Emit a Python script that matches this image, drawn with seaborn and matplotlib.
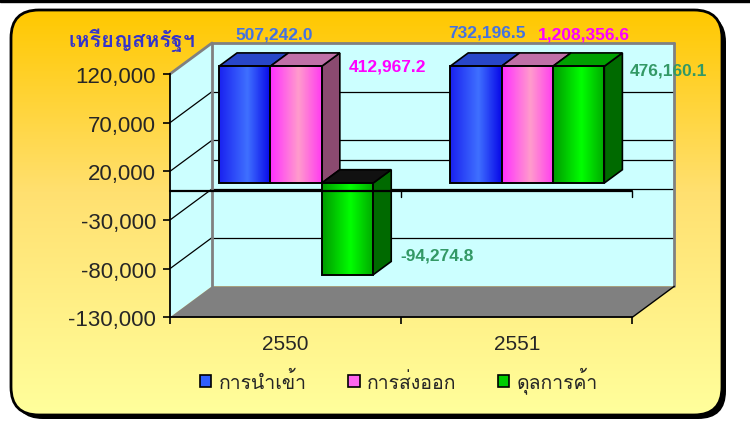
import numpy as np
import pandas as pd
import seaborn as sns
import matplotlib
matplotlib.use("Agg")
import matplotlib.pyplot as plt
import matplotlib.transforms as mtransforms
import matplotlib.font_manager as fm
from matplotlib.ft2font import FT2Font
from matplotlib.colors import LinearSegmentedColormap
from matplotlib.patches import Polygon, Rectangle, FancyBboxPatch, Patch
from matplotlib.lines import Line2D

# ---- data ----
years = ["2550", "2551"]
series = ["การนำเข้า", "การส่งออก", "ดุลการค้า"]
imports = [507242.0, 732196.5]
exports = [412967.2, 1208356.6]
balance = [-94274.8, 476160.1]
y_ticks = [-130000, -80000, -30000, 20000, 70000, 120000]
y_title = "เหรียญสหรัฐฯ"

# ---- style ----
front_colors = ["#2F5FFF", "#FF66EE", "#00CC00"]
grad_colors = [("#1A22F0", "#3F70FF", "#0808E8"),
               ("#FF30FF", "#FF9CCC", "#FF3CF0"),
               ("#009A00", "#00FF00", "#00A800")]
top_colors = ["#2846C8", "#C070A8", "#00A000"]
side_colors = ["#1020A0", "#8B4A70", "#006A00"]
label_colors = ["#4472E0", "#FF00FF", "#339966"]
# label offsets in pixels (right, up) from the visible bar end
label_offsets = {("2550", 0): (29, 32), ("2550", 1): (91, 0), ("2550", 2): (90, 20),
                 ("2551", 0): (11, 34), ("2551", 1): (57, 32), ("2551", 2): (90, -4)}


def find_thai_fonts():
    names = []
    for f in fm.fontManager.ttflist:
        try:
            if ord("ก") in FT2Font(f.fname).get_charmap() and f.name not in names:
                names.append(f.name)
        except Exception:
            pass
    # sans faces close to Tahoma first
    pref = ["Loma", "Garuda", "Umpush", "Noto Sans Thai", "Sarabun"]
    return sorted(names, key=lambda n: pref.index(n) if n in pref else len(pref))


sns.set_style("white")
thai_fonts = find_thai_fonts()
plt.rcParams["font.family"] = ["Liberation Sans"] + thai_fonts + ["DejaVu Sans"]
thai_family = thai_fonts[:1] + ["Liberation Sans", "DejaVu Sans"]

W, H = 750, 427
fig = plt.figure(figsize=(W / 100, H / 100), dpi=100, facecolor="white")

# ---- background panel (pixel coordinates) ----
bg = fig.add_axes([0, 0, 1, 1], zorder=-10)
bg.set_xlim(0, W)
bg.set_ylim(H, 0)
bg.axis("off")
bg.add_patch(Rectangle((0, 0), W, 2.5, color="black"))
bg.add_patch(FancyBboxPatch((15, 15), 711, 405, boxstyle="round,pad=0,rounding_size=28",
                            fc="black", ec="none"))
panel = FancyBboxPatch((11, 11), 711, 405, boxstyle="round,pad=0,rounding_size=28",
                       fc="none", ec="black", lw=2, zorder=3)
bg.add_patch(panel)
cmap_bg = LinearSegmentedColormap.from_list(
    "bg", [(0, "#FFC800"), (0.45, "#FFE070"), (1, "#FFFF9C")])
img = bg.imshow(np.linspace(0, 1, 256)[:, None], cmap=cmap_bg, aspect="auto",
                extent=(11, 722, 416, 11), zorder=1)
img.set_clip_path(panel)
bg.set_xlim(0, W)
bg.set_ylim(H, 0)

# ---- main axes (front plane of the 3-D box) ----
ax = fig.add_axes([170 / W, (H - 318.3) / H, (632.3 - 170) / W, (318.3 - 75) / H])
ax.patch.set_visible(False)

df = pd.DataFrame({
    "year": years * 3,
    "series": [series[0]] * 2 + [series[1]] * 2 + [series[2]] * 2,
    "value": imports + exports + balance,
})
sns.barplot(data=df, x="year", y="value", hue="series", order=years, hue_order=series,
            palette=front_colors, width=0.667, saturation=1, errorbar=None,
            legend=False, ax=ax)
bars = sorted(ax.patches, key=lambda p: p.get_x())

ymin, ymax = y_ticks[0], y_ticks[-1]
xmin, xmax = -0.5, len(years) - 0.5
ax.set_xlim(xmin, xmax)
ax.set_ylim(ymin, ymax)
ax.set_autoscale_on(False)

DX, DY = 42, 31          # box depth in pixels
F0, F1 = 0.25, 0.68      # front / back of the bars as depth fraction
ident = mtransforms.IdentityTransform()


def px(x, y, f=0.0):
    return ax.transData.transform((x, y)) + f * np.array([DX, DY])


def shifted(f):
    return mtransforms.offset_copy(ax.transData, fig=fig, x=f * DX, y=f * DY, units="dots")


def poly(points, **kw):
    p = Polygon(np.array(points), closed=True, transform=ident, clip_on=False, **kw)
    ax.add_artist(p)
    return p


def seg(p0, p1, **kw):
    ln = Line2D([p0[0], p1[0]], [p0[1], p1[1]], transform=ident, clip_on=False, **kw)
    ax.add_artist(ln)


# walls and floor
poly([px(xmin, ymin, 1), px(xmax, ymin, 1), px(xmax, ymax, 1), px(xmin, ymax, 1)],
     fc="#CCFFFF", ec="none", zorder=0.1)
poly([px(xmin, ymin, 0), px(xmin, ymin, 1), px(xmin, ymax, 1), px(xmin, ymax, 0)],
     fc="#CCFFFF", ec="none", zorder=0.2)
poly([px(xmin, ymin, 0), px(xmax, ymin, 0), px(xmax, ymin, 1), px(xmin, ymin, 1)],
     fc="#808080", ec="none", zorder=0.3)
for t in y_ticks[1:-1] + [0]:
    seg(px(xmin, t, 1), px(xmax, t, 1), color="black", lw=0.9, zorder=0.4)
for t in y_ticks[1:-1]:
    seg(px(xmin, t, 0), px(xmin, t, 1), color="black", lw=0.9, zorder=0.4)
seg(px(xmin, ymin, 1), px(xmin, ymax, 1), color="#808080", lw=2, zorder=0.5)
seg(px(xmin, ymax, 1), px(xmax, ymax, 1), color="#808080", lw=2, zorder=0.5)
seg(px(xmax, ymax, 1), px(xmax, ymin, 1), color="#808080", lw=2, zorder=0.5)
seg(px(xmin, ymax, 0), px(xmin, ymax, 1), color="#808080", lw=2, zorder=0.5)
seg(px(xmax, ymin, 0), px(xmax, ymin, 1), color="black", lw=1, zorder=0.5)

# bars with pseudo 3-D faces
front_tr = shifted(F0)
for i, bar in enumerate(bars):
    k = i % len(series)
    yi = i // len(series)
    x0, w = bar.get_x(), bar.get_width()
    x1 = x0 + w
    v0, v1 = sorted([bar.get_y(), bar.get_y() + bar.get_height()])
    lo, hi = max(v0, ymin), min(v1, ymax)
    negative = bar.get_y() + bar.get_height() < 0
    z = 3 + i * 0.1
    poly([px(x1, lo, F0), px(x1, lo, F1), px(x1, hi, F1), px(x1, hi, F0)],
         fc=side_colors[k], ec="black", lw=1.2, zorder=z)
    poly([px(x0, hi, F0), px(x1, hi, F0), px(x1, hi, F1), px(x0, hi, F1)],
         fc="#111111" if negative else top_colors[k], ec="black", lw=1.2, zorder=z + 0.01)
    cm = LinearSegmentedColormap.from_list(
        f"g{i}", [(0, grad_colors[k][0]), (0.55, grad_colors[k][1]), (1, grad_colors[k][2])])
    im = ax.imshow(np.linspace(0, 1, 64)[None, :], cmap=cm, aspect="auto",
                   extent=(x0, x1, lo, hi), transform=front_tr,
                   interpolation="bilinear", zorder=z + 0.02)
    im.set_clip_on(False)
    bar.set_y(lo)
    bar.set_height(hi - lo)
    bar.set_transform(front_tr)
    bar.set_facecolor("none")
    bar.set_edgecolor("black")
    bar.set_linewidth(1.4)
    bar.set_zorder(z + 0.03)
    bar.set_clip_on(False)

    val = [imports, exports, balance][k][yi]
    end = lo if negative else hi
    ax.annotate(f"{val:,.1f}", xy=(x0 + w / 2, end), xycoords=front_tr,
                xytext=label_offsets[(years[yi], k)], textcoords="offset pixels",
                ha="center", va="center", fontsize=12.5, fontweight="bold",
                color=label_colors[k], zorder=6, annotation_clip=False)

ax.set_xlim(xmin, xmax)
ax.set_ylim(ymin, ymax)

# category axis at zero (front) with ticks
ax.plot([xmin, xmax], [0, 0], color="black", lw=1.6, zorder=5, clip_on=False)
for xv in np.arange(xmin + 1, xmax + 0.5, 1.0):
    p = px(xv, 0, 0)
    seg(p, p - np.array([0, 6]), color="black", lw=1, zorder=5)

# axes styling
ax.set_yticks(y_ticks)
ax.set_yticklabels([f"{t:,}" for t in y_ticks])
ax.set_xticks(range(len(years)))
ax.set_xticklabels(years)
ax.set_xticks(np.arange(xmin, xmax + 0.5, 1.0), minor=True)
ax.set_xlabel("")
ax.set_ylabel("")
ax.tick_params(axis="y", length=5, width=1.2, color="black", pad=5,
               labelsize=16, left=True)
ax.tick_params(axis="x", which="major", length=0, pad=12, labelsize=15)
ax.tick_params(axis="x", which="minor", length=5, width=1.2, color="black", bottom=True)
for s in ["top", "right"]:
    ax.spines[s].set_visible(False)
for s in ["left", "bottom"]:
    ax.spines[s].set_color("black")
    ax.spines[s].set_linewidth(1.3)

# y axis title
fig.text(68 / W, (H - 40) / H, y_title, ha="left", va="center", fontsize=15.5,
         fontweight="bold", color="#3333CC", family=thai_family)

# legend
handles = [Patch(facecolor=c, edgecolor="black", lw=1.2) for c in front_colors]
leg = fig.legend(handles, series, loc="center", bbox_to_anchor=(399 / W, (H - 381) / H),
                 ncol=3, frameon=False, handlelength=0.6, handleheight=0.6,
                 handletextpad=0.4, columnspacing=2.1,
                 prop={"family": thai_family, "size": 14})

fig.savefig("out.png", dpi=100, facecolor="white")
